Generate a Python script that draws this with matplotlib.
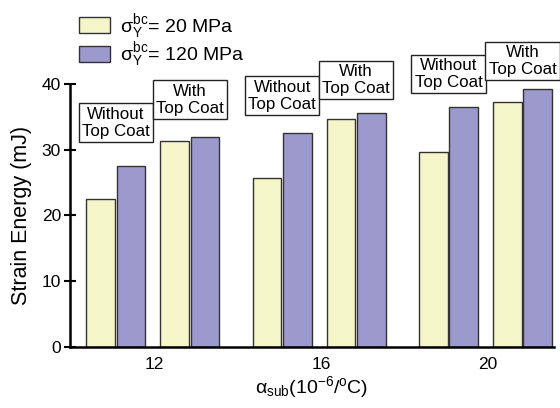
import numpy as np
import matplotlib
matplotlib.use("Agg")
from matplotlib import pyplot as plt
from matplotlib.patches import Patch

plt.rcParams['font.family'] = ['Liberation Sans', 'DejaVu Sans']
plt.rcParams['mathtext.fontset'] = 'custom'
plt.rcParams['mathtext.rm'] = 'Liberation Sans'
plt.rcParams['mathtext.it'] = 'Liberation Sans'

# data
alpha_sub = [12, 16, 20]
without_20 = [22.5, 25.7, 29.7]
without_120 = [27.5, 32.5, 36.5]
with_20 = [31.3, 34.6, 37.2]
with_120 = [31.9, 35.6, 39.2]
series_labels = [r'$\sigma_Y^{bc}$= 20 MPa', r'$\sigma_Y^{bc}$= 120 MPa']
box_labels = ['Without\nTop Coat', 'With\nTop Coat']

yellow = '#f4f5c9'
purple = '#9c99cc'
edge = '#333333'

fig = plt.figure(figsize=(5.6, 4.08), dpi=100)
ax = fig.add_axes([0.125, 0.1495, 0.864, 0.645])

x = np.array(alpha_sub, dtype=float)
w = 0.69
offsets = [-1.30, -0.57, 0.48, 1.21]
values = [without_20, without_120, with_20, with_120]
colors = [yellow, purple, yellow, purple]
for off, vals, c in zip(offsets, values, colors):
    ax.bar(x + off, vals, w, color=c, edgecolor=edge, linewidth=1.0, zorder=2)

# labels over each pair of bars
box_y = [[34.1, 38.2, 41.5], [37.6, 40.6, 43.5]]
pair_centers = [(offsets[0] + offsets[1]) / 2, (offsets[2] + offsets[3]) / 2]
for k in range(2):
    for i in range(3):
        ax.text(x[i] + pair_centers[k], box_y[k][i], box_labels[k],
                ha='center', va='center', fontsize=12.2, linespacing=1.15,
                clip_on=False, zorder=3,
                bbox=dict(boxstyle='square,pad=0.2', facecolor='white',
                          edgecolor='#222222', linewidth=1.0))

ax.set_xlim(9.96, 21.6)
ax.set_ylim(0, 40)
ax.set_yticks([0, 10, 20, 30, 40])
ax.set_xticks(alpha_sub)
ax.tick_params(axis='y', direction='inout', length=9, width=1.5, labelsize=12.5, pad=2)
ax.tick_params(axis='x', length=0, labelsize=12.5, pad=7)
for s in ['top', 'right']:
    ax.spines[s].set_visible(False)
for s in ['left', 'bottom']:
    ax.spines[s].set_linewidth(1.8)

ax.set_ylabel('Strain Energy (mJ)', fontsize=15.5, labelpad=7)
ax.set_xlabel(r'$\alpha_{\mathrm{sub}}$(10$^{-6}$/$^{\mathrm{o}}$C)', fontsize=14, labelpad=2)

handles = [Patch(facecolor=yellow, edgecolor=edge, linewidth=1.0),
           Patch(facecolor=purple, edgecolor=edge, linewidth=1.0)]
fig.legend(handles, series_labels, loc='upper left', bbox_to_anchor=(0.12, 1.0),
           frameon=False, fontsize=14, handlelength=1.6, handleheight=0.9,
           handletextpad=0.5, labelspacing=0.0, borderaxespad=0.2)

fig.savefig('out.png', dpi=100)
